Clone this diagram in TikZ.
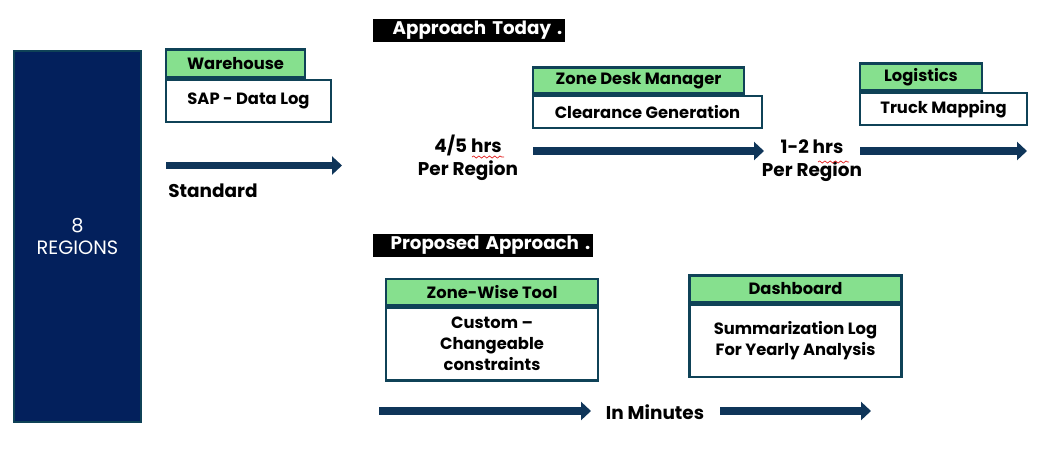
\documentclass[tikz,border=0pt]{standalone}
\usepackage{fontspec}
\setmainfont{Poppins}
\usepackage{xcolor}
\usepackage{tikz}
\usetikzlibrary{
    arrows.meta,
    positioning,
    decorations.pathmorphing
}
\definecolor{rgnnavy}{HTML}{03205C}
\definecolor{rgnline}{HTML}{0F4257}
\definecolor{rgngreen}{HTML}{86E08E}
\definecolor{rgnarrow}{HTML}{0F3559}
\definecolor{rgnred}{HTML}{E02020}
\tikzset{
    % Regions block
    regionbox/.style={
        rectangle,
        draw=rgnline,
        fill=rgnnavy,
        line width=0.05cm,
        text=white,
        font=\fontsize{11pt}{13pt}\selectfont,
        align=center
    },
    % Green title tab
    tabbox/.style={
        rectangle,
        draw=rgnline,
        fill=rgngreen,
        line width=0.05cm,
        font=\fontsize{9.3pt}{11pt}\selectfont\bfseries,
        anchor=south west,
        inner sep=0pt
    },
    % White content box
    stepbox/.style={
        rectangle,
        draw=rgnline,
        fill=white,
        line width=0.05cm,
        font=\fontsize{9.3pt}{12pt}\selectfont\bfseries,
        align=center,
        inner sep=0pt
    },
    % Black heading
    headbox/.style={
        rectangle,
        fill=black,
        text=white,
        font=\fontsize{10.4pt}{12pt}\selectfont\bfseries,
        minimum height=0.46cm,
        inner xsep=0.06cm,
        inner ysep=0pt,
        align=right,
        anchor=west
    },
    % Free text
    timelabel/.style={
        font=\fontsize{10.5pt}{13pt}\selectfont\bfseries,
        align=center,
        inner sep=0pt
    },
    % Flow arrow
    flowarrow/.style={
        -{Triangle[length=0.2cm, width=0.36cm]},
        line width=0.15cm,
        color=rgnarrow
    },
    % Spell-check squiggle
    spellmark/.style={
        rgnred,
        line width=0.4pt,
        decorate,
        decoration={snake, amplitude=0.6pt, segment length=3pt}
    }
}
\begin{document}
\begin{tikzpicture}[x=0.02cm, y=-0.02cm]

    \useasboundingbox (0,0) rectangle (1055,457);

    % Regions block
    \node[regionbox, minimum width=2.54cm, minimum height=7.42cm] (regions) at (77.5,236.5) {8\\REGIONS};

    % Headings
    \node[headbox, text width=3.72cm] (today) at (373,30.5) {Approach Today .};
    \node[headbox, text width=4.28cm] (proposed) at (373,245.5) {Proposed Approach .};

    % Approach today boxes
    \node[stepbox, minimum width=3.3cm, minimum height=0.84cm] (sap) at (248.5,101) {SAP - Data Log};
    \node[tabbox, minimum width=2.78cm, minimum height=0.56cm] (warehouse) at (sap.north west) {Warehouse};

    \node[stepbox, minimum width=4.58cm, minimum height=0.64cm] (clearance) at (647.5,112) {Clearance Generation};
    \node[tabbox, minimum width=4.22cm, minimum height=0.52cm] (zonedesk) at (clearance.north west) {Zone Desk Manager};

    \node[stepbox, minimum width=3.34cm, minimum height=0.64cm] (truck) at (943.5,109) {Truck Mapping};
    \node[tabbox, minimum width=2.44cm, minimum height=0.54cm] (logistics) at (truck.north west) {Logistics};

    % Approach today texts
    \node[timelabel, anchor=west] (standard) at (168,191) {Standard};
    \node[timelabel] (hrsA) at (468,157.5) {4/5 hrs\\Per Region};
    \node[timelabel] (hrsB) at (812,160.5) {1-2 hrs\\Per Region};

    % Approach today arrows
    \coordinate (stdA) at (166,165.5);
    \coordinate (stdB) at (342,165.5);
    \coordinate (zoneA) at (533,151);
    \coordinate (zoneB) at (764,151);
    \coordinate (logA) at (860,151);
    \coordinate (logB) at (1027,151);
    \draw[flowarrow] (stdA) -- (stdB);
    \draw[flowarrow] (zoneA) -- (zoneB);
    \draw[flowarrow] (logA) -- (logB);

    % Spell-check marks
    \draw[spellmark] (472,157) -- (504,157);
    \draw[spellmark] (818,162) -- (849,162);

    % Proposed boxes
    \node[stepbox, minimum width=4.24cm, minimum height=1.46cm] (custom) at (492,344) {Custom --\\Changeable\\constraints};
    \node[tabbox, anchor=south, minimum width=4.24cm, minimum height=0.52cm] (zonewise) at (custom.north) {Zone-Wise Tool};

    \node[stepbox, minimum width=4.24cm, minimum height=1.44cm] (summary) at (795.5,341) {Summarization Log\\For Yearly Analysis};
    \node[tabbox, anchor=south, minimum width=4.24cm, minimum height=0.54cm] (dashboard) at (summary.north) {Dashboard};

    % Proposed arrows
    \node[timelabel] (minutes) at (655,412) {In Minutes};
    \coordinate (minA) at (379,411);
    \coordinate (minB) at (591,411);
    \coordinate (dashA) at (720,411);
    \coordinate (dashB) at (871,411);
    \draw[flowarrow] (minA) -- (minB);
    \draw[flowarrow] (dashA) -- (dashB);

\end{tikzpicture}
\end{document}
